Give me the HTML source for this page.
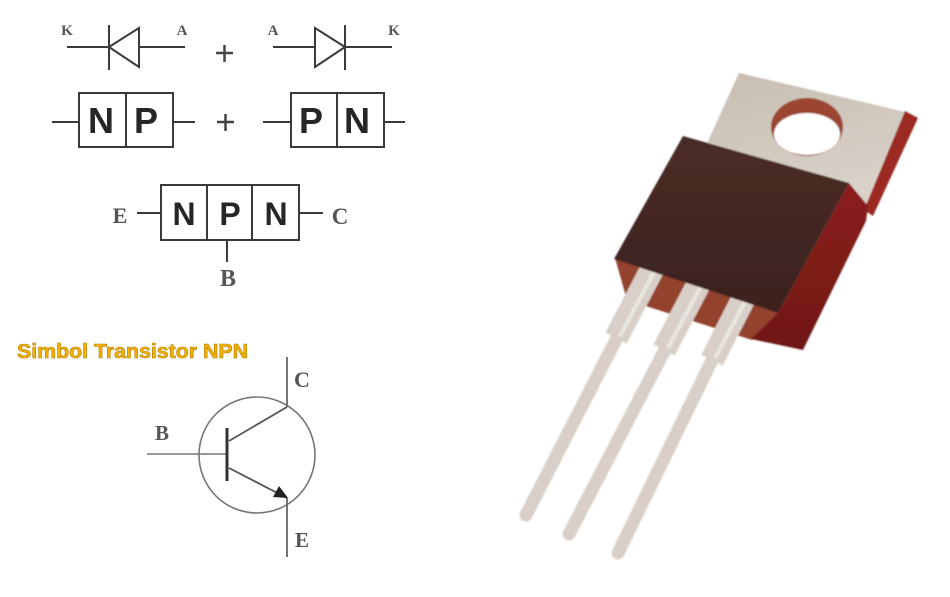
<!DOCTYPE html>
<html><head><meta charset="utf-8"><style>
html,body{margin:0;padding:0;background:#fff;}
svg{display:block;}
</style></head><body>
<svg width="950" height="597" viewBox="0 0 950 597" xmlns="http://www.w3.org/2000/svg">
<rect width="950" height="597" fill="#fff"/>
<g stroke="#3a3a3a" stroke-width="2" fill="none">
  <!-- diode 1 -->
  <line x1="67" y1="47" x2="185" y2="47"/>
  <polygon points="109,47 139,28 139,67" fill="#fff"/>
  <line x1="109" y1="25" x2="109" y2="70"/>
  <!-- diode 2 -->
  <line x1="273" y1="47" x2="392" y2="47"/>
  <polygon points="345,47 315,28 315,67" fill="#fff"/>
  <line x1="345" y1="25" x2="345" y2="70"/>
  <!-- plus signs -->
  <g stroke-width="2.5" stroke="#444">
    <line x1="216" y1="53" x2="233" y2="53"/><line x1="224.5" y1="45" x2="224.5" y2="62"/>
    <line x1="217" y1="122" x2="234" y2="122"/><line x1="225.5" y1="114" x2="225.5" y2="131"/>
  </g>
  <!-- NP box -->
  <line x1="52" y1="122" x2="79" y2="122"/>
  <rect x="79" y="93" width="94" height="54"/>
  <line x1="126" y1="93" x2="126" y2="147"/>
  <line x1="173" y1="122" x2="195" y2="122"/>
  <!-- PN box -->
  <line x1="263" y1="122" x2="291" y2="122"/>
  <rect x="291" y="93" width="93" height="54"/>
  <line x1="337" y1="93" x2="337" y2="147"/>
  <line x1="384" y1="122" x2="405" y2="122"/>
  <!-- NPN box -->
  <line x1="137" y1="213" x2="161" y2="213"/>
  <rect x="161" y="185" width="138" height="55"/>
  <line x1="207" y1="185" x2="207" y2="240"/>
  <line x1="252" y1="185" x2="252" y2="240"/>
  <line x1="299" y1="213" x2="323" y2="213"/>
  <line x1="227" y1="240" x2="227" y2="262"/>
</g>
<g font-family="Liberation Serif, serif" font-weight="bold" fill="#555" text-anchor="middle">
  <text x="67" y="35" font-size="15">K</text>
  <text x="182" y="35" font-size="15">A</text>
  <text x="273" y="35" font-size="15">A</text>
  <text x="394" y="35" font-size="15">K</text>
  <text x="120" y="223" font-size="22">E</text>
  <text x="340" y="224" font-size="23">C</text>
  <text x="228" y="286" font-size="24">B</text>
  <text x="302" y="387" font-size="22">C</text>
  <text x="162" y="440" font-size="21">B</text>
  <text x="302" y="547" font-size="21">E</text>
</g>
<g font-family="Liberation Sans, sans-serif" font-weight="bold" fill="#262626" text-anchor="middle">
  <text x="101" y="133" font-size="36">N</text>
  <text x="146" y="133" font-size="36">P</text>
  <text x="311" y="133" font-size="36">P</text>
  <text x="357" y="133" font-size="36">N</text>
  <text x="184" y="225" font-size="32">N</text>
  <text x="230" y="225" font-size="32">P</text>
  <text x="276" y="225" font-size="32">N</text>
</g>
<text x="17" y="358" font-family="Liberation Sans, sans-serif" font-weight="bold" font-size="20" fill="#f2b400" stroke="#b37a00" stroke-width="0.6" textLength="231" lengthAdjust="spacingAndGlyphs">Simbol Transistor NPN</text>
<!-- transistor symbol -->
<g fill="none">
  <circle cx="257" cy="455" r="58" stroke="#777" stroke-width="1.6"/>
  <line x1="287" y1="357" x2="287" y2="407" stroke="#666" stroke-width="1.8"/>
  <line x1="287" y1="498" x2="287" y2="557" stroke="#666" stroke-width="1.8"/>
  <line x1="147" y1="454" x2="227" y2="454" stroke="#777" stroke-width="1.6"/>
  <line x1="227" y1="428" x2="227" y2="481" stroke="#333" stroke-width="3"/>
  <line x1="229" y1="441" x2="287" y2="407" stroke="#555" stroke-width="1.8"/>
  <line x1="229" y1="468" x2="287" y2="498" stroke="#555" stroke-width="1.8"/>
</g>
<polygon points="288,498 273,497 279,486" fill="#222"/>
<!-- transistor photo -->
<defs>
  <linearGradient id="tab" x1="0" y1="0" x2="0.4" y2="1">
    <stop offset="0" stop-color="#c7bdb0"/>
    <stop offset="1" stop-color="#d9d2c9"/>
  </linearGradient>
  <linearGradient id="front" x1="0" y1="0" x2="0" y2="1">
    <stop offset="0" stop-color="#4a2b26"/>
    <stop offset="1" stop-color="#3b221e"/>
  </linearGradient>
  <linearGradient id="side" x1="0" y1="0" x2="0" y2="1">
    <stop offset="0" stop-color="#8c1f1c"/>
    <stop offset="1" stop-color="#701714"/>
  </linearGradient>
  <filter id="soft"><feGaussianBlur stdDeviation="0.8"/></filter>
</defs>
<g filter="url(#soft)">
  <polygon points="739,73 910,113 866,212 704,150" fill="url(#tab)"/>
  <polygon points="905,111 918,118 873,216 864,210" fill="#9a2a22"/>
  <ellipse cx="807" cy="127" rx="36" ry="29" fill="#9b4530"/>
  <ellipse cx="807" cy="134" rx="33" ry="21" fill="#fff"/>
  <polygon points="615,258 780,312 752,340 627,300" fill="#93432f"/>
  <!-- leads -->
  <g stroke="#d8d0c8" fill="none">
    <line x1="658" y1="258" x2="616" y2="338" stroke-width="24"/>
    <line x1="622" y1="328" x2="526" y2="515" stroke-width="13" stroke-linecap="round"/>
    <line x1="705" y1="272" x2="664" y2="350" stroke-width="24"/>
    <line x1="669" y1="342" x2="569" y2="534" stroke-width="13" stroke-linecap="round"/>
    <line x1="750" y1="286" x2="712" y2="360" stroke-width="24"/>
    <line x1="716" y1="352" x2="618" y2="553" stroke-width="13" stroke-linecap="round"/>
  </g>
  <g stroke="#e9e5e1" fill="none" stroke-width="4">
    <line x1="655" y1="270" x2="620" y2="336"/>
    <line x1="702" y1="284" x2="668" y2="348"/>
    <line x1="747" y1="298" x2="715" y2="358"/>
  </g>
  <polygon points="683,136 849,183 778,313 614,259" fill="url(#front)"/>
  <polygon points="849,183 868,206 866,221 803,350 751,339 778,313" fill="url(#side)"/>
</g>
</svg>
</body></html>
